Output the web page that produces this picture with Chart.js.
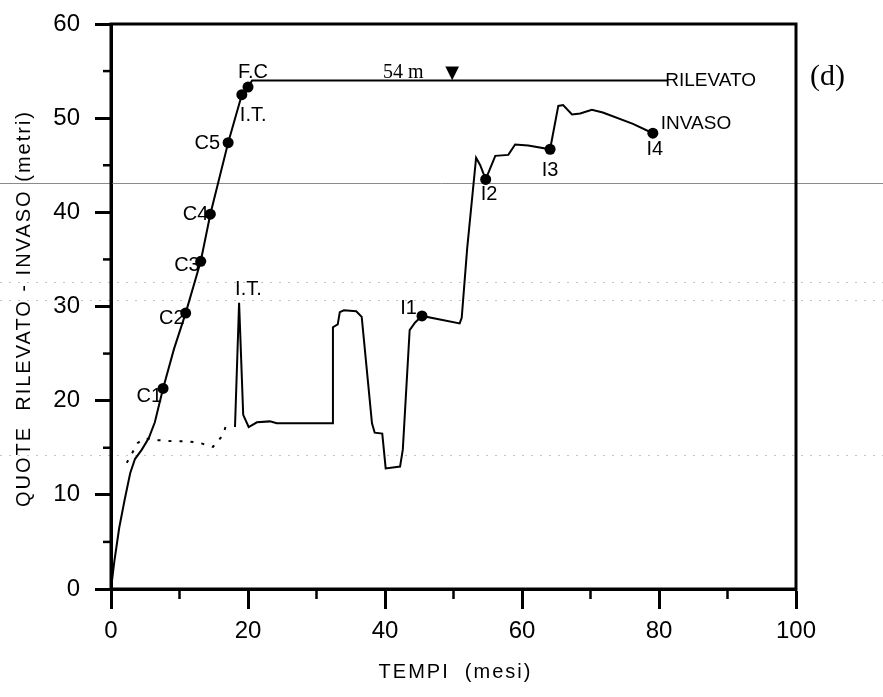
<!DOCTYPE html>
<html>
<head>
<meta charset="utf-8">
<title>Quote rilevato - invaso</title>
<script src="https://cdn.jsdelivr.net/npm/chart.js@4.4.0/dist/chart.umd.min.js"></script>
<style>
  html, body { margin: 0; padding: 0; background: #fff; }
  #wrap { width: 883px; height: 697px; }
</style>
</head>
<body>
<div id="wrap"><canvas id="chart" width="883" height="697"></canvas></div>
<script>
/* ─── Data ──────────────────────────────────────────────────────────────────── */

// embankment (rilevato) height vs time
const rilevatoX = [0, 0.5, 1.2, 2.0, 2.8, 3.5, 4.5, 5.5, 6.4, 7.6, 9.2, 10.9, 13.1, 14.5, 17.1, 19.1, 20.0, 20.6, 81.2];
const rilevatoY = [0, 3.0, 6.5, 9.5, 12.3, 13.8, 14.8, 16.0, 17.7, 21.3, 25.5, 29.3, 34.8, 39.8, 47.4, 52.5, 53.3, 54.0, 54.0];

// reservoir (invaso) level vs time
const invasoX = [18.1, 18.7, 19.3, 20.1, 21.3, 23.2, 24.2, 32.3, 32.4, 33.1, 33.4, 34.0, 35.8, 36.6,
                 38.1, 38.5, 39.6, 40.1, 42.2, 42.6, 43.6, 44.4, 45.4, 50.9, 51.2, 52.0, 53.3, 53.9,
                 54.7, 56.1, 58.0, 59.0, 60.9, 64.1, 65.3, 66.0, 67.3, 68.5, 70.2, 71.8, 76.2, 79.1];
const invasoY = [17.2, 30.4, 18.5, 17.2, 17.7, 17.8, 17.6, 17.6, 27.8, 28.1, 29.4, 29.6, 29.5, 28.9,
                 17.6, 16.6, 16.5, 12.8, 13.0, 14.8, 27.5, 28.3, 29.0, 28.2, 28.8, 36.2, 45.8, 45.0,
                 43.5, 46.0, 46.1, 47.2, 47.1, 46.7, 51.3, 51.4, 50.4, 50.5, 50.9, 50.6, 49.4, 48.4];

// early level before first impounding (dotted)
const earlyX = [2.3, 3.9, 4.9, 6.9, 8.9, 11.1, 13.0, 14.9, 16.4, 16.9];
const earlyY = [13.4, 15.5, 16.0, 15.8, 15.7, 15.7, 15.5, 15.1, 16.4, 17.7];

// marked stages
const markerNames = ['C1', 'C2', 'C3', 'C4', 'C5', 'I.T.', 'F.C', 'I1', 'I2', 'I3', 'I4'];
const markerX     = [7.6, 10.9, 13.1, 14.5, 17.1, 19.1, 20.0, 45.4, 54.7, 64.1, 79.1];
const markerY     = [21.3, 29.3, 34.8, 39.8, 47.4, 52.5, 53.3, 29.0, 43.5, 46.7, 48.4];

// free notes, anchored in data units
const noteText = ['I.T.', '54 m', '▼', 'RILEVATO', 'INVASO', '(d)'];
const noteX    = [18.7, 39.7, 49.8, 80.9, 79.1, 100];
const noteY    = [30.4, 54, 54, 54, 48.4, 54];

// axis ticks
const xTicks = [0, 20, 40, 60, 80, 100];
const yTicks = [0, 10, 20, 30, 40, 50, 60];
const xMinor = [10, 30, 50, 70, 90];
const yMinor = [5, 15, 25, 35, 45, 55];

// lines left by the scan
const scanSolid  = [43.1];
const scanDotted = [32.6, 30.7, 14.2];

/* ─── Styles ────────────────────────────────────────────────────────────────── */

const SANS  = "'Liberation Sans', Arial, sans-serif";
const SERIF = "'Liberation Serif', 'Times New Roman', serif";

const markerStyle = [
  { align: 'right',  dx: -1, dy: 8 },
  { align: 'right',  dx: -1, dy: 5 },
  { align: 'right',  dx: -1, dy: 4 },
  { align: 'right',  dx: -2, dy: 0 },
  { align: 'right',  dx: -8, dy: 1 },
  { align: 'left',   dx: -2, dy: 21 },
  { align: 'center', dx: 5,  dy: -15 },
  { align: 'right',  dx: -5, dy: -7 },
  { align: 'left',   dx: -5, dy: 15 },
  { align: 'center', dx: 0,  dy: 21 },
  { align: 'center', dx: 2,  dy: 16 },
];

const noteStyle = [
  { align: 'left',   dx: -4, dy: -13, font: '20px ' + SANS },
  { align: 'left',   dx: 0,  dy: -8,  font: '20px ' + SERIF },
  { align: 'center', dx: 0,  dy: -7,  font: "18px 'DejaVu Sans', sans-serif" },
  { align: 'left',   dx: 0,  dy: 0,   font: '19px ' + SANS },
  { align: 'left',   dx: 8,  dy: -9,  font: '19px ' + SANS },
  { align: 'left',   dx: 14, dy: -3,  font: '30px ' + SERIF },
];

const pts = (xs, ys) => xs.map((x, i) => ({ x, y: ys[i] }));

/* ─── Plugins ───────────────────────────────────────────────────────────────── */

const scanLines = {
  id: 'scanLines',
  beforeDatasetsDraw(chart) {
    const { ctx, width, scales: { y } } = chart;
    ctx.save();
    ctx.lineWidth = 1;
    ctx.strokeStyle = '#8a8a8a';
    scanSolid.forEach(v => {
      const py = Math.round(y.getPixelForValue(v)) + 0.5;
      ctx.beginPath(); ctx.moveTo(0, py); ctx.lineTo(width, py); ctx.stroke();
    });
    ctx.strokeStyle = '#c4c4c4';
    ctx.setLineDash([2, 7]);
    scanDotted.forEach(v => {
      const py = Math.round(y.getPixelForValue(v)) + 0.5;
      ctx.beginPath(); ctx.moveTo(0, py); ctx.lineTo(width, py); ctx.stroke();
    });
    ctx.restore();
  }
};

const decor = {
  id: 'decor',
  afterDraw(chart) {
    const { ctx, chartArea: a, scales: { x, y } } = chart;
    ctx.save();

    // frame
    ctx.strokeStyle = '#000';
    ctx.lineWidth = 3;
    ctx.strokeRect(a.left, a.top, a.right - a.left, a.bottom - a.top);

    // minor ticks
    ctx.lineWidth = 2.5;
    xMinor.forEach(v => {
      const px = x.getPixelForValue(v);
      ctx.beginPath(); ctx.moveTo(px, a.bottom); ctx.lineTo(px, a.bottom + 10); ctx.stroke();
    });
    yMinor.forEach(v => {
      const py = y.getPixelForValue(v);
      ctx.beginPath(); ctx.moveTo(a.left, py); ctx.lineTo(a.left - 8, py); ctx.stroke();
    });

    // axis titles
    ctx.fillStyle = '#000';
    ctx.font = '20px ' + SANS;
    ctx.textAlign = 'center';
    ctx.textBaseline = 'middle';
    ctx.letterSpacing = '2px';
    ctx.fillText('TEMPI  (mesi)', (a.left + a.right) / 2 + 2, 672);
    ctx.save();
    ctx.translate(24, (a.top + a.bottom) / 2 + 2);
    ctx.rotate(-Math.PI / 2);
    ctx.fillText('QUOTE  RILEVATO - INVASO (metri)', 0, 0);
    ctx.restore();
    ctx.letterSpacing = '0px';

    // stage labels
    ctx.font = '20px ' + SANS;
    markerNames.forEach((name, i) => {
      const s = markerStyle[i];
      ctx.textAlign = s.align;
      ctx.fillText(name, x.getPixelForValue(markerX[i]) + s.dx, y.getPixelForValue(markerY[i]) + s.dy);
    });

    // notes
    noteText.forEach((t, i) => {
      const s = noteStyle[i];
      ctx.font = s.font;
      ctx.textAlign = s.align;
      ctx.fillText(t, x.getPixelForValue(noteX[i]) + s.dx, y.getPixelForValue(noteY[i]) + s.dy);
    });

    ctx.restore();
  }
};

/* ─── Chart ─────────────────────────────────────────────────────────────────── */

new Chart(document.getElementById('chart').getContext('2d'), {
  type: 'scatter',
  data: {
    datasets: [
      {
        label: 'RILEVATO',
        data: pts(rilevatoX, rilevatoY),
        showLine: true,
        borderColor: '#000',
        borderWidth: 2,
        pointRadius: 0,
        tension: 0,
      },
      {
        label: 'INVASO',
        data: pts(invasoX, invasoY),
        showLine: true,
        borderColor: '#000',
        borderWidth: 2,
        pointRadius: 0,
        tension: 0,
      },
      {
        label: 'iniziale',
        data: pts(earlyX, earlyY),
        showLine: true,
        borderColor: '#000',
        borderWidth: 2,
        borderDash: [3, 8],
        pointRadius: 0,
        tension: 0,
      },
      {
        label: 'fasi',
        data: pts(markerX, markerY),
        showLine: false,
        pointRadius: 5.5,
        pointBackgroundColor: '#000',
        pointBorderColor: '#000',
        pointBorderWidth: 0,
      },
    ],
  },
  options: {
    responsive: false,
    animation: false,
    devicePixelRatio: 1,
    layout: { padding: { left: 0, right: 87, top: 24, bottom: 0 } },
    plugins: {
      legend:  { display: false },
      tooltip: { enabled: false },
    },
    scales: {
      x: {
        type: 'linear',
        min: 0,
        max: 100,
        afterBuildTicks: s => { s.ticks = xTicks.map(v => ({ value: v })); },
        afterFit: s => { s.height = 108; s.paddingLeft = 0; s.paddingRight = 0; },
        ticks: {
          color: '#000',
          font: { family: SANS, size: 24 },
          padding: 8,
          maxRotation: 0,
          autoSkip: false,
        },
        grid: { drawOnChartArea: false, tickLength: 20, tickWidth: 3, tickColor: '#000' },
        border: { color: '#000', width: 3 },
      },
      y: {
        type: 'linear',
        min: 0,
        max: 60,
        afterBuildTicks: s => { s.ticks = yTicks.map(v => ({ value: v })); },
        afterFit: s => { s.width = 111; s.paddingTop = 0; s.paddingBottom = 0; },
        ticks: {
          color: '#000',
          font: { family: SANS, size: 24 },
          padding: 15,
        },
        grid: { drawOnChartArea: false, tickLength: 16, tickWidth: 3, tickColor: '#000' },
        border: { color: '#000', width: 3 },
      },
    },
  },
  plugins: [scanLines, decor],
});
</script>
</body>
</html>
